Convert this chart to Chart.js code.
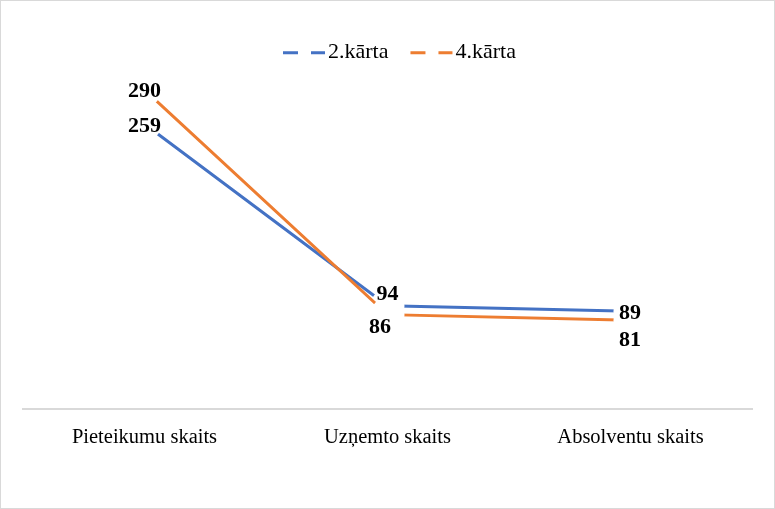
<!DOCTYPE html>
<html>
<head>
<meta charset="utf-8">
<script src="https://cdn.jsdelivr.net/npm/chart.js@4/dist/chart.umd.min.js"></script>
<style>
    html, body { margin: 0; padding: 0; background: #fff; }
    .frame {
        width: 775px;
        height: 509px;
        box-sizing: border-box;
        border: 1px solid #d9d9d9;
        background: #fff;
    }
    canvas { display: block; }
</style>
</head>
<body>
<div class="frame">
    <canvas id="lineChart" width="773" height="507"></canvas>
</div>
<script>
// kategorijas un sērijas
const categories = ['Pieteikumu skaits', 'Uzņemto skaits', 'Absolventu skaits'];
const seriesNames = ['2.kārta', '4.kārta'];
const values2 = [259, 94, 89];
const values4 = [290, 86, 81];

const colors = ['#4472C4', '#ED7D31'];
const serif = '"Liberation Serif", "Times New Roman", serif';

// etiķešu nobīdes no punkta (dx, dy līdz bāzes līnijai)
const labelOffsets = [
    [[0, 8.4], [0, -6], [-0.5, 7.7]],
    [[0, 7.5], [-7.5, 18.4], [-0.5, 26]]
];

// datu etiķetes
const valueLabels = {
    id: 'valueLabels',
    afterDatasetsDraw(chart) {
        const ctx = chart.ctx;
        ctx.save();
        ctx.font = 'bold 22px ' + serif;
        ctx.fillStyle = '#000';
        ctx.textAlign = 'center';
        ctx.textBaseline = 'alphabetic';
        chart.data.datasets.forEach((ds, i) => {
            const meta = chart.getDatasetMeta(i);
            meta.data.forEach((pt, j) => {
                const off = labelOffsets[i][j];
                ctx.fillText(String(ds.data[j]), pt.x + off[0], pt.y + off[1]);
            });
        });
        ctx.restore();
    }
};

// leģenda ar raustītām līnijām
const dashLegend = {
    id: 'dashLegend',
    afterDraw(chart) {
        const ctx = chart.ctx;
        ctx.save();
        ctx.font = '22px ' + serif;
        ctx.textBaseline = 'alphabetic';
        ctx.textAlign = 'left';
        let x = 282;
        const y = 51.7;
        seriesNames.forEach((name, i) => {
            ctx.strokeStyle = colors[i];
            ctx.lineWidth = 3;
            ctx.setLineDash([15, 13]);
            ctx.beginPath();
            ctx.moveTo(x, y);
            ctx.lineTo(x + 42, y);
            ctx.stroke();
            ctx.setLineDash([]);
            ctx.fillStyle = '#000';
            ctx.fillText(name, x + 45, 57);
            x += 45 + ctx.measureText(name).width + 22;
        });
        ctx.restore();
    }
};

new Chart(document.getElementById('lineChart'), {
    type: 'line',
    data: {
        labels: categories,
        datasets: [
            {
                label: seriesNames[0],
                data: values2,
                borderColor: colors[0],
                borderWidth: 3,
                pointRadius: 17,
                pointBackgroundColor: '#fff',
                pointBorderWidth: 0,
                pointHoverRadius: 17,
                order: 2
            },
            {
                label: seriesNames[1],
                data: values4,
                borderColor: colors[1],
                borderWidth: 3,
                pointRadius: 17,
                pointBackgroundColor: '#fff',
                pointBorderWidth: 0,
                pointHoverRadius: 17,
                order: 1
            }
        ]
    },
    options: {
        responsive: false,
        animation: false,
        layout: {
            padding: { left: 22, right: 22, top: 22.7, bottom: 42 }
        },
        scales: {
            x: {
                offset: true,
                grid: { display: false, drawTicks: false, offset: true },
                border: { display: true, color: '#d9d9d9', width: 2 },
                ticks: {
                    color: '#000',
                    padding: 16,
                    font: { family: serif, size: 20.5 }
                }
            },
            y: {
                display: false,
                min: 0,
                max: 350
            }
        },
        plugins: {
            legend: { display: false },
            tooltip: { enabled: false }
        }
    },
    plugins: [valueLabels, dashLegend]
});
</script>
</body>
</html>
